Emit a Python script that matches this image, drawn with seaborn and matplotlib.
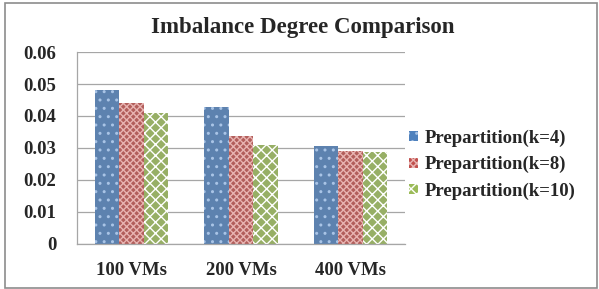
import pandas as pd
import matplotlib.pyplot as plt
import seaborn as sns
from matplotlib.patches import Rectangle, Patch

# data
groups = ["100 VMs", "200 VMs", "400 VMs"]
series = ["Prepartition(k=4)", "Prepartition(k=8)", "Prepartition(k=10)"]
k4 = [0.0481, 0.0428, 0.0306]
k8 = [0.0441, 0.0338, 0.0291]
k10 = [0.0410, 0.0310, 0.0287]

df = pd.DataFrame({
    "group": groups * 3,
    "series": [series[0]] * 3 + [series[1]] * 3 + [series[2]] * 3,
    "value": k4 + k8 + k10,
})

colors = ["#4F81BD", "#C0504D", "#9BBB59"]
hatches = ["..", "xxxxx", "xxx"]
hatch_cols = ["#A9C4E6", "#E8B3B1", "#FFFFFF"]

sns.set_theme(style="white")
plt.rcParams["font.family"] = ["Liberation Serif", "DejaVu Serif"]
plt.rcParams["hatch.linewidth"] = 1.0

fig = plt.figure(figsize=(5.99, 2.89), dpi=100)
ax = fig.add_axes([0.1285, 0.156, 0.548, 0.664])

sns.barplot(data=df, x="group", y="value", hue="series", palette=colors,
            width=0.67, ax=ax, legend=False)

for i, cont in enumerate(ax.containers):
    for bar in cont:
        bar.set_hatch(hatches[i])
        bar.set_edgecolor(hatch_cols[i])
        bar.set_linewidth(0)

ax.set_ylim(0, 0.06)
ax.set_yticks([0, 0.01, 0.02, 0.03, 0.04, 0.05, 0.06])
ax.set_yticklabels(["0", "0.01", "0.02", "0.03", "0.04", "0.05", "0.06"])
ax.yaxis.grid(True, color="#A6A6A6", linewidth=0.9)
ax.set_axisbelow(True)
ax.set_xlabel("")
ax.set_ylabel("")
for s in ["top", "right"]:
    ax.spines[s].set_visible(False)
for s in ["left", "bottom"]:
    ax.spines[s].set_color("#A6A6A6")
    ax.spines[s].set_linewidth(0.9)
ax.tick_params(axis="y", labelsize=13.5, pad=15, length=0)
ax.tick_params(axis="x", labelsize=13.5, pad=13, length=0)
for lab in ax.get_xticklabels() + ax.get_yticklabels():
    lab.set_fontweight("bold")

handles = [Patch(facecolor=colors[i], edgecolor=hatch_cols[i], hatch=hatches[i],
                 linewidth=0) for i in range(3)]
fig.legend(handles, series, loc="center left", bbox_to_anchor=(0.655, 0.43),
           frameon=False, prop={"weight": "bold", "size": 13.5},
           handlelength=0.45, handleheight=0.45, handletextpad=0.35,
           labelspacing=0.5)

fig.text(0.505, 0.905, "Imbalance Degree Comparison", ha="center", va="center",
         fontsize=16.5, fontweight="bold")

fig.patches.append(Rectangle((0.009, 0.004), 0.987, 0.984, transform=fig.transFigure,
                             fill=False, edgecolor="#8C8C8C", linewidth=1.2))

fig.savefig("out.png", dpi=100)
